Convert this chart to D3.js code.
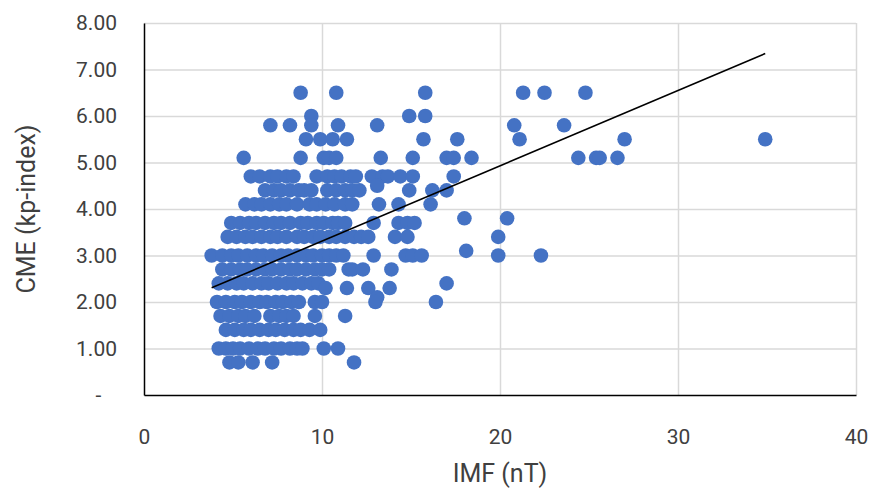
<!DOCTYPE html>
<html>
<head>
<meta charset="utf-8">
<script src="https://cdn.jsdelivr.net/npm/d3@7"></script>
<style>
  body { margin: 0; background: #fff; }
  text { font-family: Roboto, "Noto Sans", sans-serif; fill: #404040; }
</style>
</head>
<body>
<svg id="chart" width="869" height="488"></svg>
<script>
// Kp index levels and the IMF (nT) readings observed at each level
const kpLevels = [6.5, 6.0, 5.8, 5.5, 5.1, 4.7, 4.5, 4.4, 4.1, 3.8, 3.7, 3.4, 3.1, 3.0, 2.7, 2.4, 2.3, 2.1, 2.0, 1.7, 1.4, 1.0, 0.7];
const imfAtLevel = [
  [8.8, 10.8, 15.8, 21.3, 22.5, 24.8],
  [9.4, 14.9, 15.8],
  [7.1, 8.2, 9.4, 10.9, 13.1, 20.8, 23.6],
  [9.1, 9.9, 10.6, 11.4, 15.7, 17.6, 21.1, 27.0, 34.9],
  [5.6, 8.8, 10.1, 10.4, 10.8, 13.3, 15.1, 17.0, 17.4, 18.4, 24.4, 25.4, 25.6, 26.6],
  [6.0, 6.5, 7.1, 7.5, 8.0, 8.4, 9.7, 10.3, 10.7, 11.1, 11.6, 11.9, 12.8, 13.4, 13.7, 14.4, 15.1, 17.4],
  [13.1],
  [6.8, 7.3, 7.7, 8.2, 8.7, 9.0, 9.4, 10.3, 10.8, 11.3, 11.7, 12.1, 14.9, 16.2, 17.0],
  [5.7, 6.2, 6.6, 7.1, 7.6, 8.0, 8.6, 9.3, 9.7, 10.2, 10.7, 11.3, 11.7, 13.2, 14.3, 16.1],
  [18.0, 20.4],
  [4.9, 5.4, 5.9, 6.3, 6.8, 7.3, 7.7, 8.2, 8.8, 9.2, 9.7, 10.1, 10.6, 10.9, 11.3, 12.9, 14.3, 14.8, 15.2],
  [4.7, 5.2, 5.7, 6.1, 6.6, 7.1, 7.5, 8.0, 8.6, 9.0, 9.5, 9.9, 10.4, 10.8, 11.3, 11.8, 12.2, 12.6, 14.1, 14.8, 19.9],
  [18.1],
  [3.8, 4.4, 4.9, 5.3, 5.8, 6.3, 6.7, 7.2, 7.7, 8.1, 8.6, 9.1, 9.5, 10.0, 10.4, 10.8, 11.2, 12.9, 14.7, 15.1, 15.6, 19.9, 22.3],
  [4.4, 4.9, 5.4, 5.8, 6.3, 6.8, 7.2, 7.7, 8.2, 8.6, 9.1, 9.6, 10.0, 10.4, 11.5, 11.7, 12.3, 13.9],
  [4.2, 4.7, 5.2, 5.6, 6.1, 6.6, 7.0, 7.5, 8.0, 8.4, 8.9, 9.4, 9.8, 17.0],
  [10.2, 11.4, 12.6, 13.8],
  [13.1],
  [4.1, 4.6, 5.1, 5.5, 6.0, 6.5, 6.9, 7.4, 7.8, 8.3, 8.7, 9.6, 10.0, 13.0, 16.4],
  [4.3, 4.8, 5.3, 5.7, 6.2, 7.1, 7.6, 8.0, 8.4, 9.6, 11.3],
  [4.6, 5.1, 5.6, 6.0, 6.5, 7.0, 7.4, 7.9, 8.4, 8.8, 9.3, 9.9],
  [4.2, 4.6, 5.0, 5.4, 5.9, 6.4, 6.8, 7.3, 7.7, 8.2, 8.6, 8.9, 10.1, 10.9],
  [4.8, 5.3, 6.1, 7.2, 11.8]
];
// linear trendline fitted to the full record: kp = slope * imf + intercept
const trendSlope = 0.162;
const trendIntercept = 1.69;
const xTickValues = [0, 10, 20, 30, 40];
const yTickValues = [0, 1, 2, 3, 4, 5, 6, 7, 8];
const xTitle = "IMF (nT)";
const yTitle = "CME (kp-index)";

const points = [];
kpLevels.forEach((kp, i) => imfAtLevel[i].forEach(imf => points.push({ imf, kp })));

const svg = d3.select("#chart");
const plot = { left: 144, right: 856, top: 23, bottom: 395 };

const x = d3.scaleLinear().domain([0, 40]).range([plot.left, plot.right]);
const y = d3.scaleLinear().domain([0, 8]).range([plot.bottom, plot.top]);

// gridlines
svg.append("g")
  .attr("transform", `translate(0,${plot.bottom})`)
  .call(d3.axisBottom(x).tickValues(xTickValues.slice(1)).tickSize(-(plot.bottom - plot.top)).tickFormat(""))
  .call(g => g.select(".domain").remove())
  .call(g => g.selectAll("line").attr("stroke", "#d9d9d9").attr("stroke-width", 1.5));
svg.append("g")
  .attr("transform", `translate(${plot.left},0)`)
  .call(d3.axisLeft(y).tickValues(yTickValues.slice(1)).tickSize(-(plot.right - plot.left)).tickFormat(""))
  .call(g => g.select(".domain").remove())
  .call(g => g.selectAll("line").attr("stroke", "#d9d9d9").attr("stroke-width", 1.5));

// markers
svg.append("g").selectAll("circle").data(points).join("circle")
  .attr("cx", d => x(d.imf))
  .attr("cy", d => y(d.kp))
  .attr("r", 7.3)
  .attr("fill", "#4472c4");

// trendline across the observed IMF range
const [x0, x1] = d3.extent(points, d => d.imf);
svg.append("line")
  .attr("x1", x(x0)).attr("y1", y(trendIntercept + trendSlope * x0))
  .attr("x2", x(x1)).attr("y2", y(trendIntercept + trendSlope * x1))
  .attr("stroke", "#000").attr("stroke-width", 1.6);

// axes
const xAxis = svg.append("g")
  .attr("transform", `translate(0,${plot.bottom})`)
  .call(d3.axisBottom(x).tickValues(xTickValues).tickSize(0).tickPadding(34).tickFormat(d3.format("d")));
xAxis.select(".domain").attr("stroke", "#000").attr("stroke-width", 1.5);
xAxis.selectAll("text").attr("font-size", 21).attr("fill", "#404040");

const yAxis = svg.append("g")
  .attr("transform", `translate(${plot.left},0)`)
  .call(d3.axisLeft(y).tickValues(yTickValues).tickSize(0).tickPadding(27)
    .tickFormat(d => d === 0 ? "-   " : d3.format(".2f")(d)));
yAxis.select(".domain").attr("stroke", "#000").attr("stroke-width", 1.5);
yAxis.selectAll("text").attr("font-size", 21).attr("fill", "#404040").style("white-space", "pre");

svg.append("text")
  .attr("x", (plot.left + plot.right) / 2).attr("y", 482)
  .attr("text-anchor", "middle").attr("font-size", 25)
  .text(xTitle);
svg.append("text")
  .attr("transform", `translate(35,${(plot.top + plot.bottom) / 2}) rotate(-90)`)
  .attr("text-anchor", "middle").attr("font-size", 25)
  .text(yTitle);
</script>
</body>
</html>
